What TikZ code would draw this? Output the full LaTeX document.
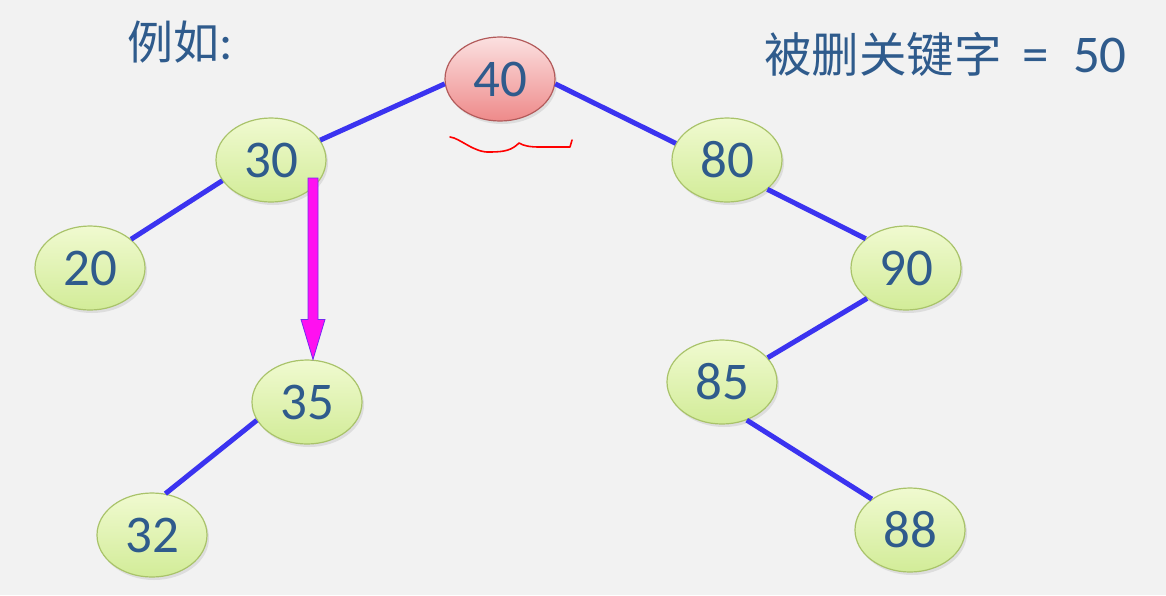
\documentclass[tikz,border=0pt]{standalone}
\usepackage{fontspec}
\setmainfont{Carlito}
\newfontfamily\cjk{Noto Sans CJK SC}
\usetikzlibrary{shadows,calc,shapes.geometric}
\definecolor{bg}{HTML}{F2F2F2}
\definecolor{txt}{HTML}{2F5B8C}
\definecolor{edgeblue}{HTML}{3B33F0}
\definecolor{gtop}{HTML}{F0FAD0}
\definecolor{gbot}{HTML}{D2EC98}
\definecolor{gborder}{HTML}{A9C36A}
\definecolor{rtop}{HTML}{FBE0E0}
\definecolor{rbot}{HTML}{EE8A8A}
\definecolor{rborder}{HTML}{B25A5A}
\definecolor{mag}{HTML}{FF10F0}
\tikzset{
  keynode/.style={ellipse, minimum width=110pt, minimum height=84pt, inner sep=0pt,
    top color=gtop, bottom color=gbot, draw=gborder, line width=1.2pt,
    text=txt, font=\fontsize{53}{53}\selectfont,
    drop shadow={opacity=0.18, shadow xshift=2pt, shadow yshift=-3pt}},
  rootnode/.style={keynode, top color=rtop, bottom color=rbot, draw=rborder},
  treeedge/.style={draw=edgeblue, line width=5pt},
  bigarrow/.style={fill=mag, draw=edgeblue!70!mag, line width=0.8pt},
  label/.style={text=txt, inner sep=0pt}
}
\begin{document}
\begin{tikzpicture}[x=1pt,y=-1pt]
\fill[bg] (0,0) rectangle (1166,595);
\useasboundingbox (0,0) rectangle (1166,595);
% nodes
\node[rootnode] (n40) at (500,79) {40};
\node[keynode] (n30) at (271,160) {30};
\node[keynode] (n20) at (90,268) {20};
\node[keynode] (n80) at (727,160) {80};
\node[keynode] (n90) at (906,268) {90};
\node[keynode] (n35) at (307,402) {35};
\node[keynode] (n85) at (722,382) {85};
\node[keynode] (n32) at (152,535) {32};
\node[keynode] (n88) at (910,530) {88};
% edges
\draw[treeedge] (n40.185) -- (n30.22);
\draw[treeedge] (n30.203) -- (n20.35);
\draw[treeedge] (n40.355) -- (n80.162);
\draw[treeedge] (n80.324) -- (n90.144);
\draw[treeedge] (n90.218) -- (n85.28);
\draw[treeedge] (n85.303) -- (n88.141);
\draw[treeedge] (n35.200) -- (n32.72);
% magenta arrow from 30 down to 35
\coordinate (a0) at ($(n30.center)+(42,18)$);
\coordinate (a1) at (a0 |- n35.north);
\draw[bigarrow] ($(a0)+(-5,0)$) -- ($(a1)+(-5,-40)$) -- ($(a1)+(-12,-40)$) -- (a1)
  -- ($(a1)+(12,-40)$) -- ($(a1)+(5,-40)$) -- ($(a0)+(5,0)$) -- cycle;
% red squiggle under root
\coordinate (s0) at (450,137);
\coordinate (s1) at (572,140);
\draw[red, line width=1.6pt, line cap=round, line join=round]
  (s0) .. controls (460,138) and (474,153) .. (490,152)
  .. controls (505,152) and (512,150) .. (519,143)
  .. controls (524,146) and (530,147) .. (540,147)
  -- (570,147) -- (s1);
% labels
\node[label, anchor=base west] (ex) at (127,59)
  {\cjk\fontsize{46}{46}\selectfont 例如{\rmfamily\fontsize{50}{50}\selectfont :}};
\node[label, anchor=base west] (key) at (764,72)
  {{\cjk\fontsize{47.5}{47.5}\selectfont 被删关键字}\hspace{21pt}{\fontsize{53}{53}\selectfont =\hspace{24pt}50}};
\end{tikzpicture}
\end{document}
